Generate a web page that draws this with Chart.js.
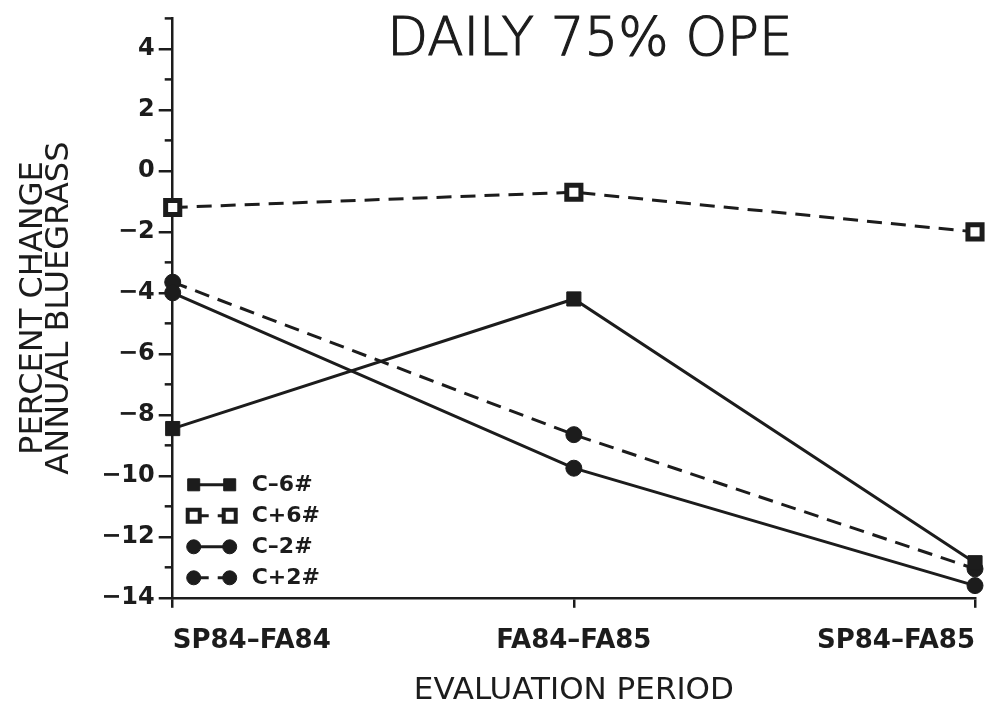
<!DOCTYPE html>
<html>
<head>
<meta charset="utf-8">
<script src="https://cdn.jsdelivr.net/npm/chart.js@4"></script>
<style>
  body { margin: 0; background: #fff; }
  #wrap { width: 1004px; height: 711px; position: relative; }
</style>
</head>
<body>
<div id="wrap"><canvas id="chart"></canvas></div>
<script>
const periods = ["SP84–FA84", "FA84–FA85", "SP84–FA85"];
const seriesNames = ["C–6#", "C+6#", "C–2#", "C+2#"];
const cMinus6 = [-8.45, -4.2, -12.85];
const cPlus6 = [-1.2, -0.7, -2.0];
const cMinus2 = [-4.0, -9.75, -13.6];
const cPlus2 = [-3.65, -8.65, -13.05];
const yTicks = [-14, -12, -10, -8, -6, -4, -2, 0, 2, 4];

const ink = "#1c1c1c";
const dash = [15, 9];

// minor ticks on the odd values, short
const minorTicks = {
  id: "minorTicks",
  afterDraw(chart) {
    const y = chart.scales.y, ctx = chart.ctx;
    ctx.save();
    ctx.strokeStyle = ink;
    ctx.lineWidth = 2.5;
    for (let v = y.min; v <= y.max; v++) {
      if (yTicks.includes(v)) continue;
      const py = y.getPixelForValue(v);
      ctx.beginPath();
      ctx.moveTo(y.right - 8, py);
      ctx.lineTo(y.right, py);
      ctx.stroke();
    }
    ctx.restore();
  }
};

// title sits inside the plot, legend in the lower left corner
const overlay = {
  id: "overlay",
  afterDraw(chart) {
    const ctx = chart.ctx, area = chart.chartArea;
    ctx.save();
    ctx.fillStyle = ink;
    ctx.strokeStyle = ink;
    ctx.lineWidth = 1.2;
    ctx.font = '300 53px "DejaVu Sans"';
    ctx.textAlign = "center";
    ctx.textBaseline = "alphabetic";
    const tx = area.left + area.width * 0.52;
    ctx.fillText("DAILY 75% OPE", tx, 55);
    ctx.strokeText("DAILY 75% OPE", tx, 55);

    chart.data.datasets.forEach((ds, i) => {
      const yy = area.bottom - 113 + i * 31;
      const x1 = area.left + 21, x2 = area.left + 57;
      ctx.strokeStyle = ink;
      ctx.lineWidth = 3;
      ctx.setLineDash(ds.borderDash || []);
      ctx.beginPath();
      ctx.moveTo(x1, yy);
      ctx.lineTo(x2, yy);
      ctx.stroke();
      ctx.setLineDash([]);
      [x1, x2].forEach(x => {
        ctx.beginPath();
        if (ds.pointStyle === "rect") {
          ctx.rect(x - 6, yy - 6, 12, 12);
        } else {
          ctx.arc(x, yy, 7, 0, Math.PI * 2);
        }
        ctx.fillStyle = ds.pointBackgroundColor;
        ctx.fill();
        ctx.lineWidth = ds.pointBackgroundColor === "#fff" ? 4 : 1;
        ctx.strokeStyle = ink;
        ctx.stroke();
      });
      ctx.fillStyle = ink;
      ctx.font = 'bold 22px "DejaVu Sans"';
      ctx.textAlign = "left";
      ctx.textBaseline = "middle";
      ctx.fillText(ds.label, area.left + 79, yy);
    });
    ctx.restore();
  }
};

function line(label, data, dashed, style, fill) {
  return {
    label,
    data,
    borderColor: ink,
    borderWidth: 3,
    borderDash: dashed ? dash : [],
    tension: 0,
    pointStyle: style,
    pointRadius: style === "rect" ? 10 : 8,
    pointBackgroundColor: fill,
    pointBorderColor: ink,
    pointBorderWidth: fill === "#fff" ? 5 : 1,
    clip: false
  };
}

new Chart(document.getElementById("chart"), {
  type: "line",
  data: {
    labels: periods,
    datasets: [
      line(seriesNames[0], cMinus6, false, "rect", ink),
      line(seriesNames[1], cPlus6, true, "rect", "#fff"),
      line(seriesNames[2], cMinus2, false, "circle", ink),
      line(seriesNames[3], cPlus2, true, "circle", ink)
    ]
  },
  options: {
    responsive: true,
    maintainAspectRatio: false,
    animation: false,
    layout: { padding: { top: 17, right: 29, bottom: 5, left: 0 } },
    plugins: { legend: { display: false }, tooltip: { enabled: false } },
    scales: {
      x: {
        offset: false,
        grid: { drawOnChartArea: false, drawTicks: true, tickLength: 10, color: ink, lineWidth: 2.5 },
        border: { display: true, color: ink, width: 2.5 },
        ticks: {
          align: "inner",
          padding: 18,
          color: ink,
          maxRotation: 0,
          font: { family: "DejaVu Sans", weight: "bold", size: 26 }
        },
        title: {
          display: true,
          text: "EVALUATION PERIOD",
          color: ink,
          padding: { top: 0, bottom: 0 },
          font: { family: "DejaVu Sans", weight: "normal", size: 31, lineHeight: 1 }
        }
      },
      y: {
        min: -14,
        max: 5,
        afterBuildTicks(scale) {
          scale.ticks = yTicks.map(v => ({ value: v }));
        },
        grid: { drawOnChartArea: false, drawTicks: true, tickLength: 14, color: ink, lineWidth: 2.5 },
        border: { display: true, color: ink, width: 2.5 },
        ticks: {
          padding: 4,
          color: ink,
          font: { family: "DejaVu Sans", weight: "bold", size: 24 },
          callback: v => (v < 0 ? "−" + Math.abs(v) : String(v))
        },
        title: {
          display: true,
          text: ["PERCENT CHANGE", "ANNUAL BLUEGRASS"],
          color: ink,
          padding: { top: 21, bottom: 25 },
          font: { family: "DejaVu Sans", weight: "normal", size: 32, lineHeight: 0.8 }
        }
      }
    }
  },
  plugins: [minorTicks, overlay]
});
</script>
</body>
</html>
